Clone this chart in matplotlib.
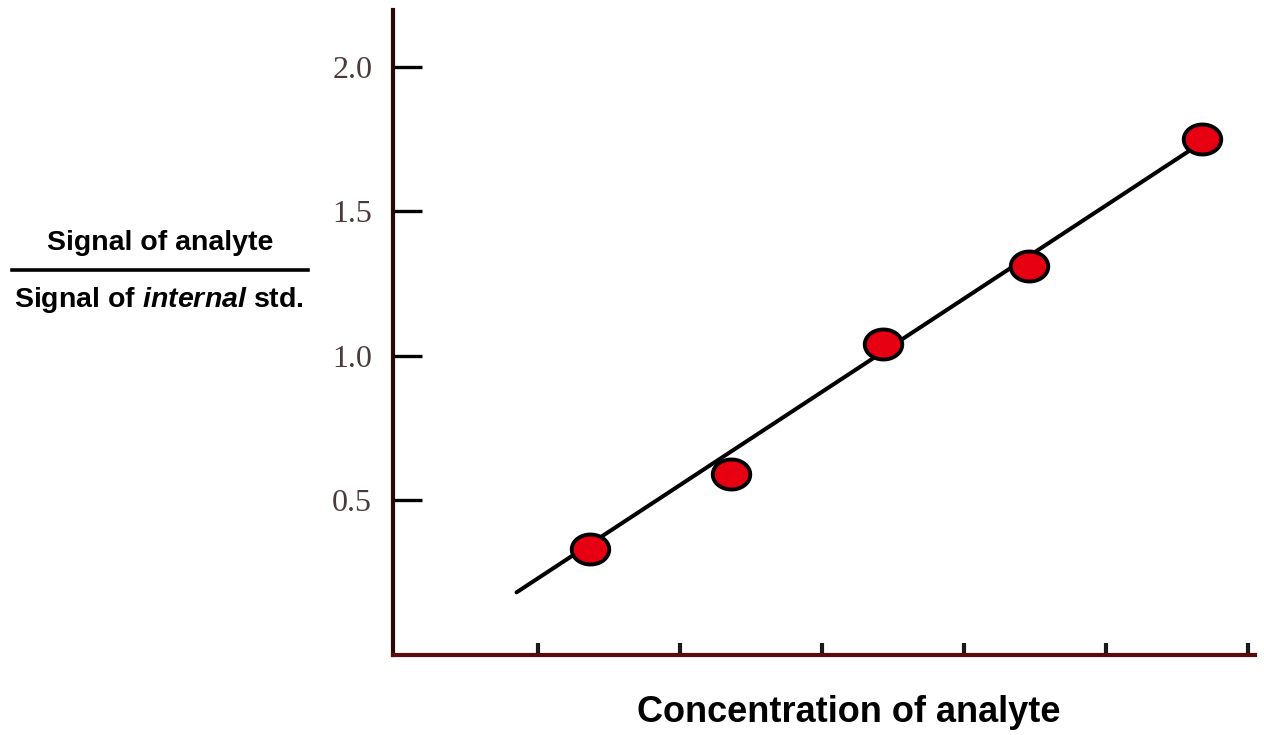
import matplotlib
matplotlib.use("Agg")
import matplotlib.pyplot as plt
from matplotlib.path import Path
from matplotlib.lines import Line2D
import numpy as np

plt.rcParams["mathtext.fontset"] = "custom"
plt.rcParams["mathtext.it"] = "Liberation Sans:italic:bold"
plt.rcParams["mathtext.rm"] = "Liberation Sans:bold"
plt.rcParams["mathtext.bf"] = "Liberation Sans:bold"

# ---- data ----
conc = [1.37, 2.36, 3.43, 4.46, 5.68]
ratio = [0.33, 0.59, 1.04, 1.31, 1.75]
fit_x = [0.85, 5.62]
fit_y = [0.18, 1.72]
y_ticks = [0.5, 1.0, 1.5, 2.0]
y_tick_labels = ["0.5", "1.0", "1.5", "2.0"]
x_ticks = [1, 2, 3, 4, 5, 6]

W, H = 1264, 735
fig = plt.figure(figsize=(W / 100, H / 100), dpi=100)
fig.patch.set_facecolor("white")

left, right, bottom, top = 393, 1255, 655, 10
ax = fig.add_axes([left / W, 1 - bottom / H, (right - left) / W, (bottom - top) / H])
ax.set_facecolor("none")

ax.set_xlim(-0.02, 6.05)
ax.set_ylim(-0.037, 2.197)

# fitted line
ax.plot(fit_x, fit_y, color="black", lw=2.9, solid_capstyle="round", zorder=2)

# elliptical markers
t = np.linspace(0, 2 * np.pi, 60)
ell = Path(np.column_stack([np.cos(t), 0.8 * np.sin(t)]), closed=True)
ax.plot(conc, ratio, ls="none", marker=ell, markersize=27,
        markerfacecolor="#e60012", markeredgecolor="black", markeredgewidth=2.8, zorder=3)

# spines
for s in ["top", "right"]:
    ax.spines[s].set_visible(False)
ax.spines["left"].set_color("#2a0808")
ax.spines["left"].set_linewidth(3)
ax.spines["bottom"].set_color("#5c0a0a")
ax.spines["bottom"].set_linewidth(3)

ax.set_yticks(y_ticks)
ax.set_yticklabels(y_tick_labels, family="Liberation Serif", fontsize=23, color="#4a3a3a")
ax.tick_params(axis="y", direction="in", length=21, width=2.4, color="black", pad=15)
ax.set_xticks(x_ticks)
ax.set_xticklabels([])
ax.tick_params(axis="x", direction="in", length=9, width=3, color="#1a1a1a")

# x label
fig.text(849 / W, 1 - 713 / H, "Concentration of analyte", ha="center", va="center",
         family="Liberation Sans", weight="bold", fontsize=26, color="black")

# y label as fraction
fig.text(160 / W, 1 - 243 / H, "Signal of analyte", ha="center", va="center",
         family="Liberation Sans", weight="bold", fontsize=20.5, color="black")
fig.text(159 / W, 1 - 300 / H, r"Signal of $\mathit{internal}$ std.", ha="center", va="center",
         family="Liberation Sans", weight="bold", fontsize=20.5, color="black")
fig.add_artist(Line2D([12 / W, 308 / W], [1 - 270 / H, 1 - 270 / H], color="black", lw=2.6,
                      transform=fig.transFigure))

fig.savefig("out.png", dpi=100, facecolor="white")
